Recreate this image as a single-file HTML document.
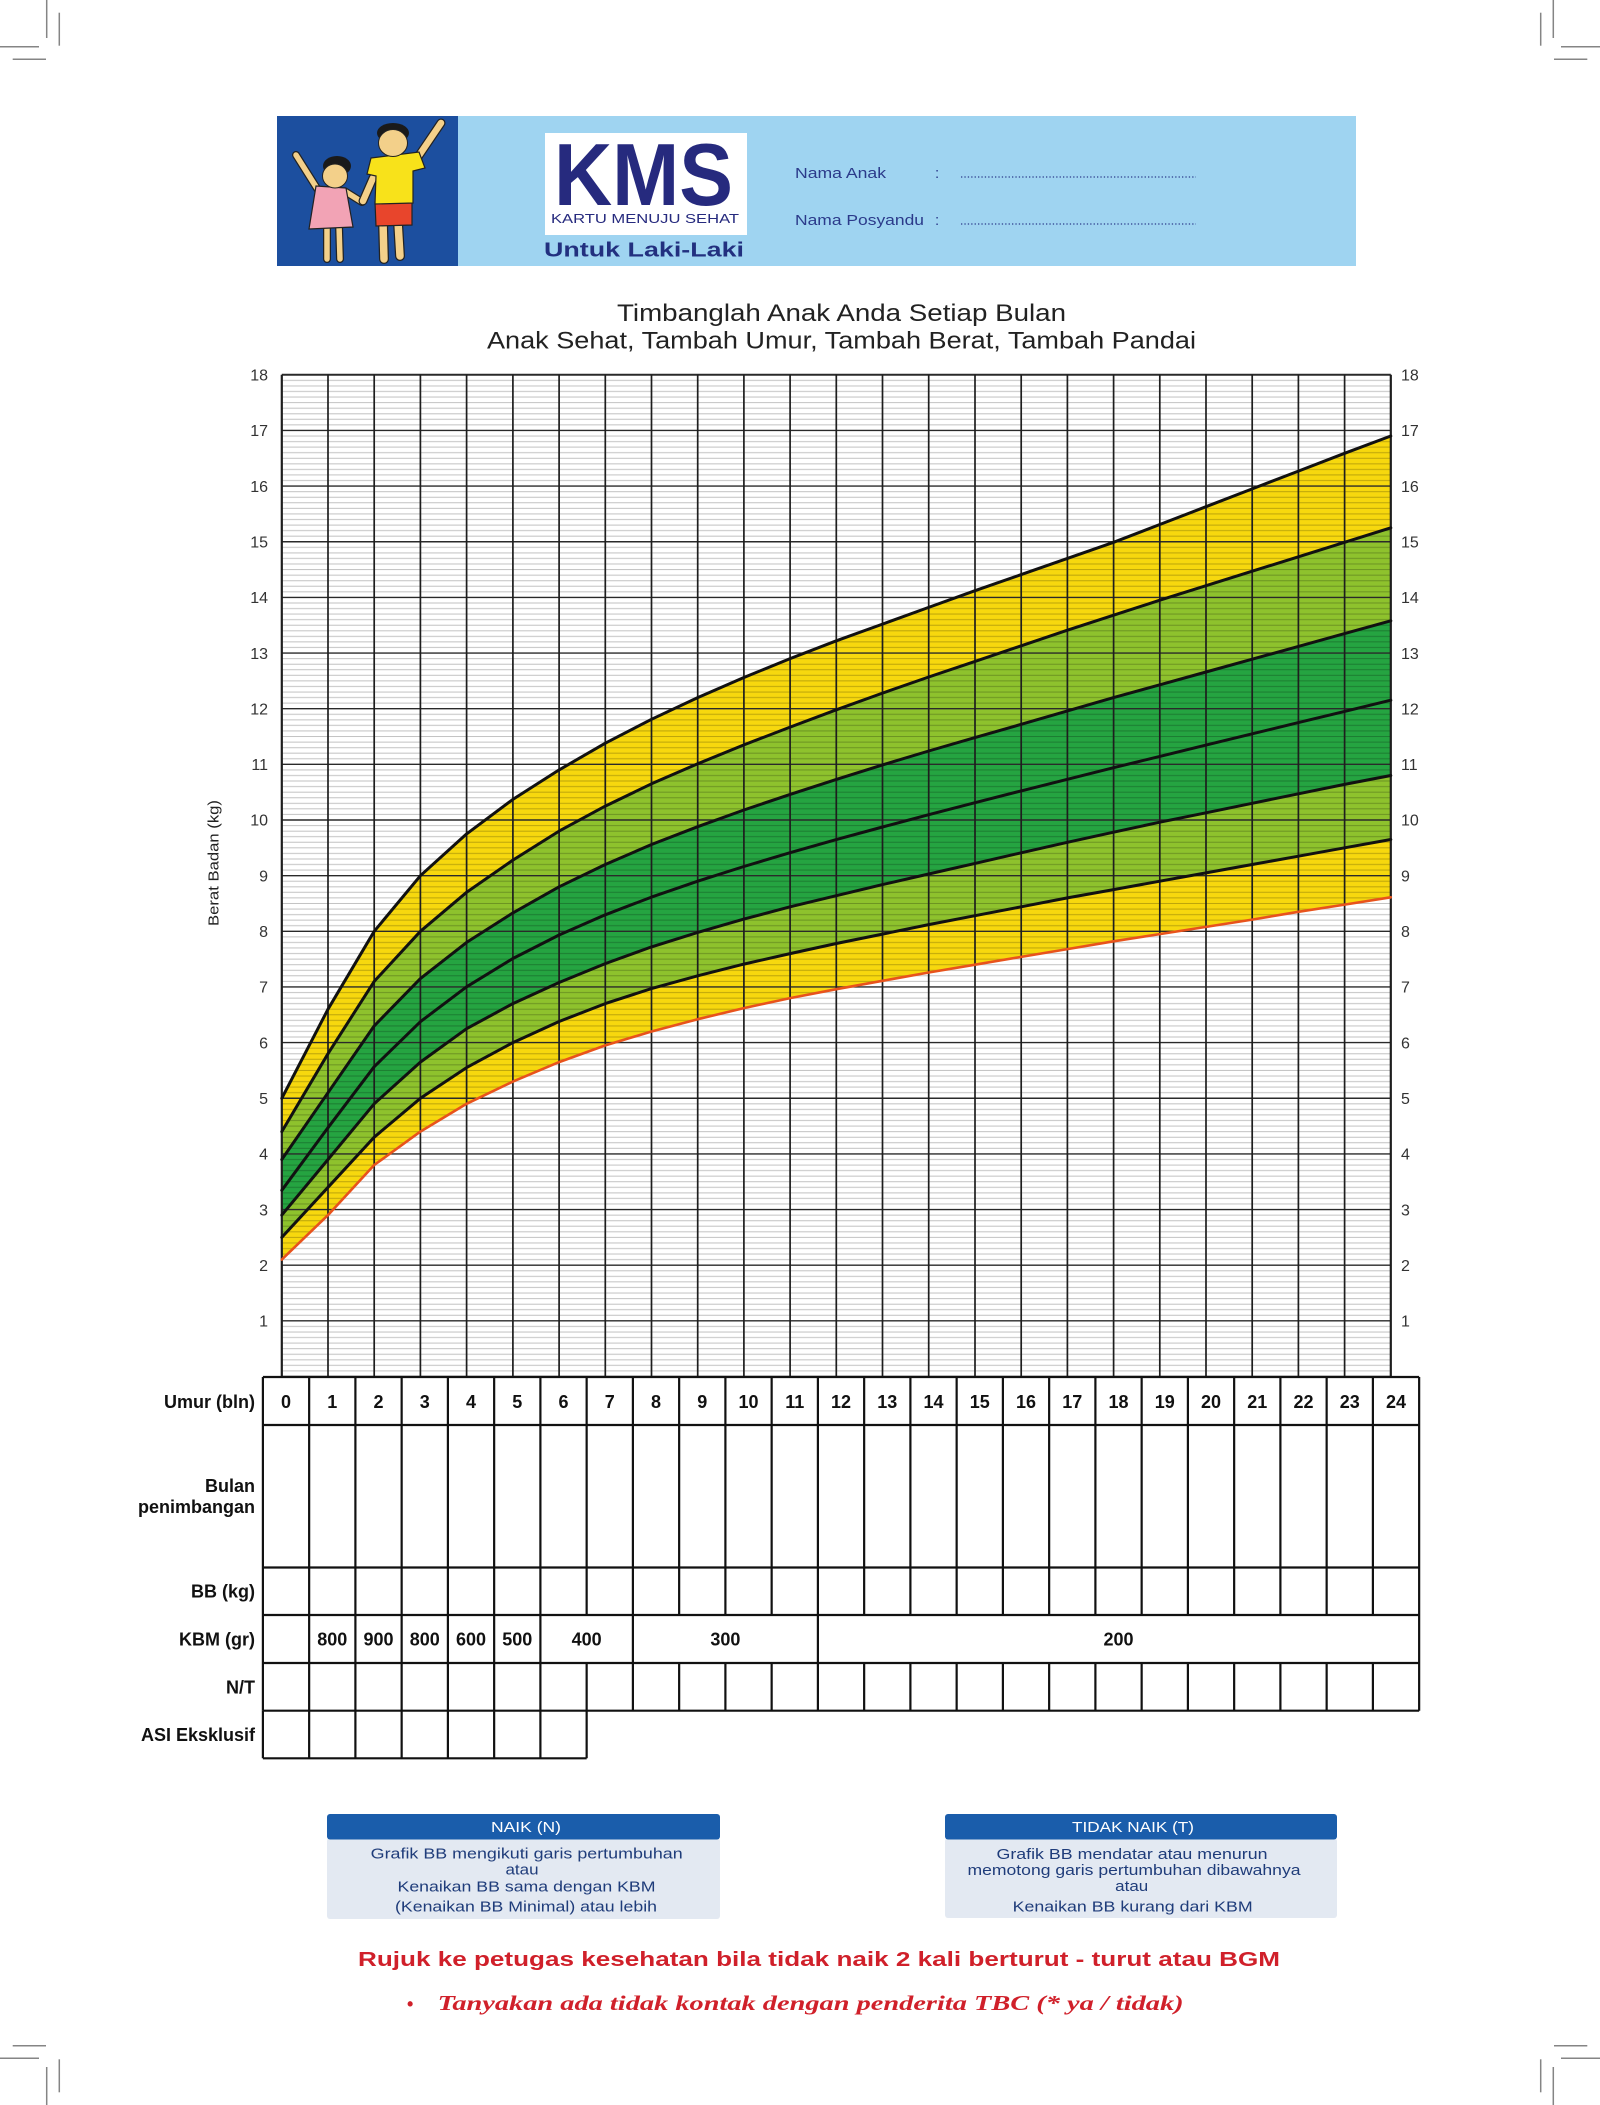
<!DOCTYPE html>
<html><head><meta charset="utf-8"><title>KMS Untuk Laki-Laki</title>
<style>html,body{margin:0;padding:0;background:#fff}svg{display:block}</style></head>
<body>
<svg xmlns="http://www.w3.org/2000/svg" width="1600" height="2105" viewBox="0 0 1600 2105">
<defs>
<pattern id="minor" patternUnits="userSpaceOnUse" x="281.8" y="374.8" width="1109" height="55.65">
<g stroke="#000" stroke-opacity="0.24" stroke-width="1">
<line x1="0" x2="1109" y1="5.565" y2="5.565"/><line x1="0" x2="1109" y1="11.13" y2="11.13"/><line x1="0" x2="1109" y1="16.695" y2="16.695"/><line x1="0" x2="1109" y1="22.26" y2="22.26"/><line x1="0" x2="1109" y1="27.825" y2="27.825"/><line x1="0" x2="1109" y1="33.39" y2="33.39"/><line x1="0" x2="1109" y1="38.955" y2="38.955"/><line x1="0" x2="1109" y1="44.52" y2="44.52"/><line x1="0" x2="1109" y1="50.085" y2="50.085"/>
</g></pattern>
</defs>
<rect width="1600" height="2105" fill="#fff"/>

<!-- crop marks -->
<g stroke="#858585" stroke-width="1.5">
<line x1="46.7" y1="0" x2="46.7" y2="38"/><line x1="59.3" y1="12.7" x2="59.3" y2="45.7"/>
<line x1="0" y1="46.7" x2="39" y2="46.7"/><line x1="12.7" y1="59.3" x2="46" y2="59.3"/>
<line x1="1553.3" y1="0" x2="1553.3" y2="38"/><line x1="1540.7" y1="12.7" x2="1540.7" y2="45.7"/>
<line x1="1561" y1="46.7" x2="1600" y2="46.7"/><line x1="1554" y1="59.3" x2="1587.3" y2="59.3"/>
<line x1="46.7" y1="2067" x2="46.7" y2="2105"/><line x1="59.3" y1="2059.3" x2="59.3" y2="2092.3"/>
<line x1="0" y1="2058.3" x2="39" y2="2058.3"/><line x1="12.7" y1="2045.7" x2="46" y2="2045.7"/>
<line x1="1553.3" y1="2067" x2="1553.3" y2="2105"/><line x1="1540.7" y1="2059.3" x2="1540.7" y2="2092.3"/>
<line x1="1561" y1="2058.3" x2="1600" y2="2058.3"/><line x1="1554" y1="2045.7" x2="1587.3" y2="2045.7"/>
</g>

<!-- header band -->
<rect x="277" y="116" width="1079" height="150" fill="#9fd4f1"/>
<rect x="277" y="116" width="181" height="150" fill="#1c4f9f"/>
<!-- kids -->
<g stroke-linecap="round">
<line x1="318" y1="190" x2="296" y2="155" stroke="#222" stroke-width="8"/>
<line x1="318" y1="190" x2="296" y2="155" stroke="#f3d08a" stroke-width="5.5"/>
<line x1="327" y1="225" x2="327" y2="259" stroke="#222" stroke-width="8"/>
<line x1="327" y1="225" x2="327" y2="259" stroke="#f3d08a" stroke-width="5.5"/>
<line x1="339" y1="225" x2="340" y2="259" stroke="#222" stroke-width="8"/>
<line x1="339" y1="225" x2="340" y2="259" stroke="#f3d08a" stroke-width="5.5"/>
<line x1="346" y1="192" x2="362" y2="202" stroke="#222" stroke-width="8"/>
<line x1="346" y1="192" x2="362" y2="202" stroke="#f3d08a" stroke-width="5.5"/>
<polygon points="316,186 346,188 353,227 309,229" fill="#f2a3b5" stroke="#222" stroke-width="1.2"/>
<ellipse cx="337" cy="166" rx="14" ry="10" fill="#1a1a1a"/>
<ellipse cx="335" cy="176" rx="12.5" ry="12" fill="#f3d08a" stroke="#222" stroke-width="1"/>
<line x1="418" y1="157" x2="441" y2="123" stroke="#222" stroke-width="9"/>
<line x1="418" y1="157" x2="441" y2="123" stroke="#f3d08a" stroke-width="6.5"/>
<line x1="373" y1="178" x2="363" y2="201" stroke="#222" stroke-width="9"/>
<line x1="373" y1="178" x2="363" y2="201" stroke="#f3d08a" stroke-width="6.5"/>
<line x1="383" y1="222" x2="384" y2="259" stroke="#222" stroke-width="10"/>
<line x1="383" y1="222" x2="384" y2="259" stroke="#f3d08a" stroke-width="7.5"/>
<line x1="398" y1="222" x2="400" y2="256" stroke="#222" stroke-width="10"/>
<line x1="398" y1="222" x2="400" y2="256" stroke="#f3d08a" stroke-width="7.5"/>
<polygon points="375,202 412,201 412,225 376,226" fill="#e8452c" stroke="#222" stroke-width="1.2"/>
<polygon points="371,158 419,152 425,168 413,171 413,203 375,204 376,176 367,174" fill="#f8e21a" stroke="#222" stroke-width="1.2"/>
<ellipse cx="393" cy="133" rx="16" ry="10" fill="#1a1a1a"/>
<ellipse cx="393" cy="143" rx="14.5" ry="13.5" fill="#f3d08a" stroke="#222" stroke-width="1"/>
</g>
<!-- KMS logo -->
<rect x="545" y="133" width="202" height="102" fill="#fff"/>
<text x="554" y="205" font-family="Liberation Sans, sans-serif" font-weight="bold" font-size="88" fill="#262a7e" textLength="179" lengthAdjust="spacingAndGlyphs">KMS</text>
<text x="551" y="223" font-family="Liberation Sans, sans-serif" font-size="13" fill="#262a7e" textLength="188" lengthAdjust="spacingAndGlyphs">KARTU MENUJU SEHAT</text>
<text x="544" y="256.5" font-family="Liberation Sans, sans-serif" font-weight="bold" font-size="20" fill="#22307f" textLength="200" lengthAdjust="spacingAndGlyphs">Untuk Laki-Laki</text>
<g font-family="Liberation Sans, sans-serif" font-size="15" fill="#2b3a8a">
<text x="795" y="178" textLength="91" lengthAdjust="spacingAndGlyphs">Nama Anak</text>
<text x="935" y="178">:</text>
<text x="795" y="225" textLength="129" lengthAdjust="spacingAndGlyphs">Nama Posyandu</text>
<text x="935" y="225">:</text>
</g>
<g stroke="#2b3a8a" stroke-width="1.3" stroke-dasharray="1.3 2.1">
<line x1="961" y1="177" x2="1196" y2="177"/><line x1="961" y1="224" x2="1196" y2="224"/>
</g>

<!-- titles -->
<g font-family="Liberation Sans, sans-serif" font-size="24" fill="#222">
<text x="617" y="321" textLength="449" lengthAdjust="spacingAndGlyphs">Timbanglah Anak Anda Setiap Bulan</text>
<text x="487" y="348.5" textLength="709" lengthAdjust="spacingAndGlyphs">Anak Sehat, Tambah Umur, Tambah Berat, Tambah Pandai</text>
</g>

<!-- colour bands -->
<polygon fill="#f7d80e" points="281.8,1098.3 328.0,1009.2 374.2,931.3 420.4,875.7 466.6,833.9 512.9,799.4 559.1,769.9 605.3,743.2 651.5,719.3 697.7,697.6 743.9,677.5 790.1,658.6 836.3,640.8 882.5,624.1 928.7,607.4 975.0,590.7 1021.2,574.6 1067.4,558.4 1113.6,542.3 1159.8,524.5 1206.0,506.7 1252.2,488.9 1298.4,471.1 1344.6,453.3 1390.8,436.0 1390.8,897.3 1344.6,904.6 1298.4,911.8 1252.2,919.6 1206.0,926.9 1159.8,934.1 1113.6,941.3 1067.4,949.1 1021.2,956.9 975.0,964.7 928.7,972.5 882.5,980.8 836.3,989.2 790.1,998.1 743.9,1008.1 697.7,1019.2 651.5,1031.5 605.3,1045.4 559.1,1062.1 512.9,1081.6 466.6,1103.8 420.4,1131.6 374.2,1165.0 328.0,1215.1 281.8,1259.6"/>
<polygon fill="#8ec22d" points="281.8,1131.6 328.0,1053.7 374.2,981.4 420.4,931.3 466.6,892.3 512.9,860.1 559.1,831.1 605.3,806.1 651.5,783.8 697.7,763.8 743.9,744.9 790.1,727.1 836.3,709.8 882.5,693.1 928.7,677.0 975.0,661.4 1021.2,645.8 1067.4,630.2 1113.6,615.2 1159.8,600.2 1206.0,585.7 1252.2,571.2 1298.4,556.8 1344.6,542.3 1390.8,527.8 1390.8,839.5 1344.6,847.8 1298.4,856.2 1252.2,864.5 1206.0,872.9 1159.8,881.2 1113.6,889.6 1067.4,897.9 1021.2,906.8 975.0,915.7 928.7,924.6 882.5,934.1 836.3,943.5 790.1,953.6 743.9,964.1 697.7,975.8 651.5,988.6 605.3,1003.6 559.1,1021.5 512.9,1042.6 466.6,1067.6 420.4,1098.3 374.2,1137.2 328.0,1187.3 281.8,1237.4"/>
<polygon fill="#25a441" points="281.8,1159.5 328.0,1092.7 374.2,1025.9 420.4,978.6 466.6,942.4 512.9,912.9 559.1,886.8 605.3,864.5 651.5,844.5 697.7,826.7 743.9,810.0 790.1,794.4 836.3,779.4 882.5,764.9 928.7,751.0 975.0,737.6 1021.2,724.3 1067.4,710.9 1113.6,697.6 1159.8,684.8 1206.0,672.0 1252.2,659.2 1298.4,646.4 1344.6,633.6 1390.8,620.8 1390.8,775.5 1344.6,784.4 1298.4,793.8 1252.2,803.3 1206.0,812.8 1159.8,822.2 1113.6,832.2 1067.4,842.3 1021.2,852.8 975.0,863.4 928.7,874.0 882.5,884.6 836.3,895.7 790.1,906.8 743.9,919.1 697.7,932.4 651.5,946.9 605.3,963.6 559.1,982.5 512.9,1003.6 466.6,1028.7 420.4,1062.1 374.2,1103.8 328.0,1159.5 281.8,1215.1"/>

<!-- minor grid -->
<rect x="281.8" y="374.8" width="1109" height="1001.7" fill="url(#minor)"/>
<!-- major horizontal -->
<g stroke="#2a2a2a" stroke-width="1.4">
<line x1="281.8" x2="1390.8" y1="1376.5" y2="1376.5"/><line x1="281.8" x2="1390.8" y1="1320.85" y2="1320.85"/><line x1="281.8" x2="1390.8" y1="1265.2" y2="1265.2"/><line x1="281.8" x2="1390.8" y1="1209.55" y2="1209.55"/><line x1="281.8" x2="1390.8" y1="1153.9" y2="1153.9"/><line x1="281.8" x2="1390.8" y1="1098.25" y2="1098.25"/><line x1="281.8" x2="1390.8" y1="1042.6" y2="1042.6"/><line x1="281.8" x2="1390.8" y1="986.95" y2="986.95"/><line x1="281.8" x2="1390.8" y1="931.3" y2="931.3"/><line x1="281.8" x2="1390.8" y1="875.65" y2="875.65"/><line x1="281.8" x2="1390.8" y1="820.0" y2="820.0"/><line x1="281.8" x2="1390.8" y1="764.35" y2="764.35"/><line x1="281.8" x2="1390.8" y1="708.7" y2="708.7"/><line x1="281.8" x2="1390.8" y1="653.05" y2="653.05"/><line x1="281.8" x2="1390.8" y1="597.4" y2="597.4"/><line x1="281.8" x2="1390.8" y1="541.75" y2="541.75"/><line x1="281.8" x2="1390.8" y1="486.1" y2="486.1"/><line x1="281.8" x2="1390.8" y1="430.45" y2="430.45"/><line x1="281.8" x2="1390.8" y1="374.8" y2="374.8" stroke-width="2"/>
</g>
<!-- major vertical -->
<g stroke="#1e1e1e" stroke-width="1.7">
<line x1="281.8" x2="281.8" y1="374.8" y2="1376.5" stroke-width="2.2"/><line x1="328.0" x2="328.0" y1="374.8" y2="1376.5"/><line x1="374.2" x2="374.2" y1="374.8" y2="1376.5"/><line x1="420.4" x2="420.4" y1="374.8" y2="1376.5"/><line x1="466.6" x2="466.6" y1="374.8" y2="1376.5"/><line x1="512.9" x2="512.9" y1="374.8" y2="1376.5"/><line x1="559.1" x2="559.1" y1="374.8" y2="1376.5"/><line x1="605.3" x2="605.3" y1="374.8" y2="1376.5"/><line x1="651.5" x2="651.5" y1="374.8" y2="1376.5"/><line x1="697.7" x2="697.7" y1="374.8" y2="1376.5"/><line x1="743.9" x2="743.9" y1="374.8" y2="1376.5"/><line x1="790.1" x2="790.1" y1="374.8" y2="1376.5"/><line x1="836.3" x2="836.3" y1="374.8" y2="1376.5"/><line x1="882.5" x2="882.5" y1="374.8" y2="1376.5"/><line x1="928.7" x2="928.7" y1="374.8" y2="1376.5"/><line x1="975.0" x2="975.0" y1="374.8" y2="1376.5"/><line x1="1021.2" x2="1021.2" y1="374.8" y2="1376.5"/><line x1="1067.4" x2="1067.4" y1="374.8" y2="1376.5"/><line x1="1113.6" x2="1113.6" y1="374.8" y2="1376.5"/><line x1="1159.8" x2="1159.8" y1="374.8" y2="1376.5"/><line x1="1206.0" x2="1206.0" y1="374.8" y2="1376.5"/><line x1="1252.2" x2="1252.2" y1="374.8" y2="1376.5"/><line x1="1298.4" x2="1298.4" y1="374.8" y2="1376.5"/><line x1="1344.6" x2="1344.6" y1="374.8" y2="1376.5"/><line x1="1390.8" x2="1390.8" y1="374.8" y2="1376.5" stroke-width="2.2"/>
</g>

<!-- curves -->
<g fill="none" stroke="#111" stroke-width="3" stroke-linejoin="round" stroke-linecap="round">
<polyline points="281.8,1098.3 328.0,1009.2 374.2,931.3 420.4,875.7 466.6,833.9 512.9,799.4 559.1,769.9 605.3,743.2 651.5,719.3 697.7,697.6 743.9,677.5 790.1,658.6 836.3,640.8 882.5,624.1 928.7,607.4 975.0,590.7 1021.2,574.6 1067.4,558.4 1113.6,542.3 1159.8,524.5 1206.0,506.7 1252.2,488.9 1298.4,471.1 1344.6,453.3 1390.8,436.0"/>
<polyline points="281.8,1131.6 328.0,1053.7 374.2,981.4 420.4,931.3 466.6,892.3 512.9,860.1 559.1,831.1 605.3,806.1 651.5,783.8 697.7,763.8 743.9,744.9 790.1,727.1 836.3,709.8 882.5,693.1 928.7,677.0 975.0,661.4 1021.2,645.8 1067.4,630.2 1113.6,615.2 1159.8,600.2 1206.0,585.7 1252.2,571.2 1298.4,556.8 1344.6,542.3 1390.8,527.8"/>
<polyline points="281.8,1159.5 328.0,1092.7 374.2,1025.9 420.4,978.6 466.6,942.4 512.9,912.9 559.1,886.8 605.3,864.5 651.5,844.5 697.7,826.7 743.9,810.0 790.1,794.4 836.3,779.4 882.5,764.9 928.7,751.0 975.0,737.6 1021.2,724.3 1067.4,710.9 1113.6,697.6 1159.8,684.8 1206.0,672.0 1252.2,659.2 1298.4,646.4 1344.6,633.6 1390.8,620.8"/>
<polyline points="281.8,1190.3 328.0,1127.7 374.2,1066.7 420.4,1021.7 466.6,986.8 512.9,958.5 559.1,935.0 605.3,914.8 651.5,897.1 697.7,881.2 743.9,866.5 790.1,852.7 836.3,839.6 882.5,827.0 928.7,814.7 975.0,802.7 1021.2,790.9 1067.4,779.3 1113.6,767.7 1159.8,756.4 1206.0,745.1 1252.2,733.8 1298.4,722.6 1344.6,711.4 1390.8,700.2"/>
<polyline points="281.8,1215.1 328.0,1159.5 374.2,1103.8 420.4,1062.1 466.6,1028.7 512.9,1003.6 559.1,982.5 605.3,963.6 651.5,946.9 697.7,932.4 743.9,919.1 790.1,906.8 836.3,895.7 882.5,884.6 928.7,874.0 975.0,863.4 1021.2,852.8 1067.4,842.3 1113.6,832.2 1159.8,822.2 1206.0,812.8 1252.2,803.3 1298.4,793.8 1344.6,784.4 1390.8,775.5"/>
<polyline points="281.8,1237.4 328.0,1187.3 374.2,1137.2 420.4,1098.3 466.6,1067.6 512.9,1042.6 559.1,1021.5 605.3,1003.6 651.5,988.6 697.7,975.8 743.9,964.1 790.1,953.6 836.3,943.5 882.5,934.1 928.7,924.6 975.0,915.7 1021.2,906.8 1067.4,897.9 1113.6,889.6 1159.8,881.2 1206.0,872.9 1252.2,864.5 1298.4,856.2 1344.6,847.8 1390.8,839.5"/>
<polyline stroke="#e8531c" stroke-width="2.6" points="281.8,1259.6 328.0,1215.1 374.2,1165.0 420.4,1131.6 466.6,1103.8 512.9,1081.6 559.1,1062.1 605.3,1045.4 651.5,1031.5 697.7,1019.2 743.9,1008.1 790.1,998.1 836.3,989.2 882.5,980.8 928.7,972.5 975.0,964.7 1021.2,956.9 1067.4,949.1 1113.6,941.3 1159.8,934.1 1206.0,926.9 1252.2,919.6 1298.4,911.8 1344.6,904.6 1390.8,897.3"/>
</g>

<!-- y labels -->
<g font-family="Liberation Sans, sans-serif" font-size="16" fill="#333" text-anchor="end">
<text x="268" y="380.5">18</text><text x="268" y="436.2">17</text><text x="268" y="491.8">16</text><text x="268" y="547.5">15</text><text x="268" y="603.1">14</text><text x="268" y="658.8">13</text><text x="268" y="714.4">12</text><text x="268" y="770.1">11</text><text x="268" y="825.7">10</text><text x="268" y="881.4">9</text><text x="268" y="937.0">8</text><text x="268" y="992.7">7</text><text x="268" y="1048.3">6</text><text x="268" y="1104.0">5</text><text x="268" y="1159.6">4</text><text x="268" y="1215.3">3</text><text x="268" y="1270.9">2</text><text x="268" y="1326.6">1</text>
</g>
<g font-family="Liberation Sans, sans-serif" font-size="16" fill="#333">
<text x="1401" y="380.5">18</text><text x="1401" y="436.2">17</text><text x="1401" y="491.8">16</text><text x="1401" y="547.5">15</text><text x="1401" y="603.1">14</text><text x="1401" y="658.8">13</text><text x="1401" y="714.4">12</text><text x="1401" y="770.1">11</text><text x="1401" y="825.7">10</text><text x="1401" y="881.4">9</text><text x="1401" y="937.0">8</text><text x="1401" y="992.7">7</text><text x="1401" y="1048.3">6</text><text x="1401" y="1104.0">5</text><text x="1401" y="1159.6">4</text><text x="1401" y="1215.3">3</text><text x="1401" y="1270.9">2</text><text x="1401" y="1326.6">1</text>
</g>
<text transform="translate(218.5,863) rotate(-90)" text-anchor="middle" font-family="Liberation Sans, sans-serif" font-size="15" fill="#222" textLength="126" lengthAdjust="spacingAndGlyphs">Berat Badan (kg)</text>

<!-- table -->
<g stroke="#111" stroke-width="2.2" fill="none">
<line x1="262.9" x2="1419.15" y1="1377" y2="1377"/>
<line x1="262.9" x2="1419.15" y1="1425" y2="1425"/>
<line x1="262.9" x2="1419.15" y1="1567.5" y2="1567.5"/>
<line x1="262.9" x2="1419.15" y1="1615" y2="1615"/>
<line x1="262.9" x2="1419.15" y1="1663" y2="1663"/>
<line x1="262.9" x2="1419.15" y1="1710.7" y2="1710.7"/>
<line x1="262.9" x2="586.65" y1="1758.3" y2="1758.3"/>
<path d="M262.9 1377V1615M309.15 1377V1615M355.4 1377V1615M401.65 1377V1615M447.9 1377V1615M494.15 1377V1615M540.4 1377V1615M586.65 1377V1615M632.9 1377V1615M679.15 1377V1615M725.4 1377V1615M771.65 1377V1615M817.9 1377V1615M864.15 1377V1615M910.4 1377V1615M956.65 1377V1615M1002.9 1377V1615M1049.15 1377V1615M1095.4 1377V1615M1141.65 1377V1615M1187.9 1377V1615M1234.15 1377V1615M1280.4 1377V1615M1326.65 1377V1615M1372.9 1377V1615M1419.15 1377V1615"/>
<path d="M262.9 1615V1663M309.15 1615V1663M355.4 1615V1663M401.65 1615V1663M447.9 1615V1663M494.15 1615V1663M540.4 1615V1663M632.9 1615V1663M817.9 1615V1663M1419.15 1615V1663"/>
<path d="M262.9 1663V1710.7M309.15 1663V1710.7M355.4 1663V1710.7M401.65 1663V1710.7M447.9 1663V1710.7M494.15 1663V1710.7M540.4 1663V1710.7M586.65 1663V1710.7M632.9 1663V1710.7M679.15 1663V1710.7M725.4 1663V1710.7M771.65 1663V1710.7M817.9 1663V1710.7M864.15 1663V1710.7M910.4 1663V1710.7M956.65 1663V1710.7M1002.9 1663V1710.7M1049.15 1663V1710.7M1095.4 1663V1710.7M1141.65 1663V1710.7M1187.9 1663V1710.7M1234.15 1663V1710.7M1280.4 1663V1710.7M1326.65 1663V1710.7M1372.9 1663V1710.7M1419.15 1663V1710.7"/>
<path d="M262.9 1710.7V1758.3M309.15 1710.7V1758.3M355.4 1710.7V1758.3M401.65 1710.7V1758.3M447.9 1710.7V1758.3M494.15 1710.7V1758.3M540.4 1710.7V1758.3M586.65 1710.7V1758.3"/>
</g>
<g font-family="Liberation Sans, sans-serif" font-weight="bold" font-size="18" fill="#111" text-anchor="middle">
<text x="286" y="1408">0</text><text x="332.3" y="1408">1</text><text x="378.5" y="1408">2</text><text x="424.8" y="1408">3</text><text x="471" y="1408">4</text><text x="517.3" y="1408">5</text><text x="563.5" y="1408">6</text><text x="609.8" y="1408">7</text><text x="656" y="1408">8</text><text x="702.3" y="1408">9</text><text x="748.5" y="1408">10</text><text x="794.8" y="1408">11</text><text x="841" y="1408">12</text><text x="887.3" y="1408">13</text><text x="933.5" y="1408">14</text><text x="979.8" y="1408">15</text><text x="1026" y="1408">16</text><text x="1072.3" y="1408">17</text><text x="1118.5" y="1408">18</text><text x="1164.8" y="1408">19</text><text x="1211" y="1408">20</text><text x="1257.3" y="1408">21</text><text x="1303.5" y="1408">22</text><text x="1349.8" y="1408">23</text><text x="1396" y="1408">24</text>
<text x="332.3" y="1645.5">800</text><text x="378.5" y="1645.5">900</text><text x="424.8" y="1645.5">800</text><text x="471" y="1645.5">600</text><text x="517.3" y="1645.5">500</text><text x="586.65" y="1645.5">400</text><text x="725.4" y="1645.5">300</text><text x="1118.5" y="1645.5">200</text>
</g>
<g font-family="Liberation Sans, sans-serif" font-weight="bold" font-size="18" fill="#111" text-anchor="end">
<text x="255" y="1408">Umur (bln)</text>
<text x="255" y="1492">Bulan</text>
<text x="255" y="1513">penimbangan</text>
<text x="255" y="1597.5">BB (kg)</text>
<text x="255" y="1645.5">KBM (gr)</text>
<text x="255" y="1693.3">N/T</text>
<text x="255" y="1741">ASI Eksklusif</text>
</g>

<!-- legend boxes -->
<rect x="327" y="1838" width="393" height="81" rx="3" fill="#e3e9f2"/>
<rect x="327" y="1814" width="393" height="25.5" rx="3" fill="#1a5dab"/>
<rect x="945" y="1838" width="392" height="80" rx="3" fill="#e3e9f2"/>
<rect x="945" y="1814" width="392" height="25.5" rx="3" fill="#1a5dab"/>
<g font-family="Liberation Sans, sans-serif" font-size="15" text-anchor="middle">
<text x="526" y="1832" fill="#fff" textLength="70" lengthAdjust="spacingAndGlyphs">NAIK (N)</text>
<text x="1133" y="1832" fill="#fff" textLength="122" lengthAdjust="spacingAndGlyphs">TIDAK NAIK (T)</text>
<g fill="#1f3c7a">
<text x="526.7" y="1858.5" textLength="312" lengthAdjust="spacingAndGlyphs">Grafik BB mengikuti garis pertumbuhan</text>
<text x="522" y="1874.5" textLength="33" lengthAdjust="spacingAndGlyphs">atau</text>
<text x="526.5" y="1891.5" textLength="258" lengthAdjust="spacingAndGlyphs">Kenaikan BB sama dengan KBM</text>
<text x="526" y="1911.5" textLength="262" lengthAdjust="spacingAndGlyphs">(Kenaikan BB Minimal) atau lebih</text>
<text x="1132" y="1859" textLength="271" lengthAdjust="spacingAndGlyphs">Grafik BB mendatar atau menurun</text>
<text x="1134" y="1875" textLength="333" lengthAdjust="spacingAndGlyphs">memotong garis pertumbuhan dibawahnya</text>
<text x="1131.7" y="1891" textLength="33" lengthAdjust="spacingAndGlyphs">atau</text>
<text x="1132.7" y="1911.5" textLength="240" lengthAdjust="spacingAndGlyphs">Kenaikan BB kurang dari KBM</text>
</g>
</g>

<!-- bottom notes -->
<text x="358" y="1966" font-family="Liberation Sans, sans-serif" font-weight="bold" font-size="20" fill="#d0202a" textLength="922" lengthAdjust="spacingAndGlyphs">Rujuk ke petugas kesehatan bila tidak naik 2 kali berturut - turut atau BGM</text>
<text x="407" y="2010" font-family="Liberation Sans, sans-serif" font-weight="bold" font-size="18" fill="#d0202a">•</text>
<text x="437.6" y="2010" font-family="Liberation Serif, serif" font-weight="bold" font-style="italic" font-size="21" fill="#d0202a" textLength="746" lengthAdjust="spacingAndGlyphs">Tanyakan ada tidak kontak dengan penderita TBC (* ya / tidak)</text>
</svg>
</body></html>
